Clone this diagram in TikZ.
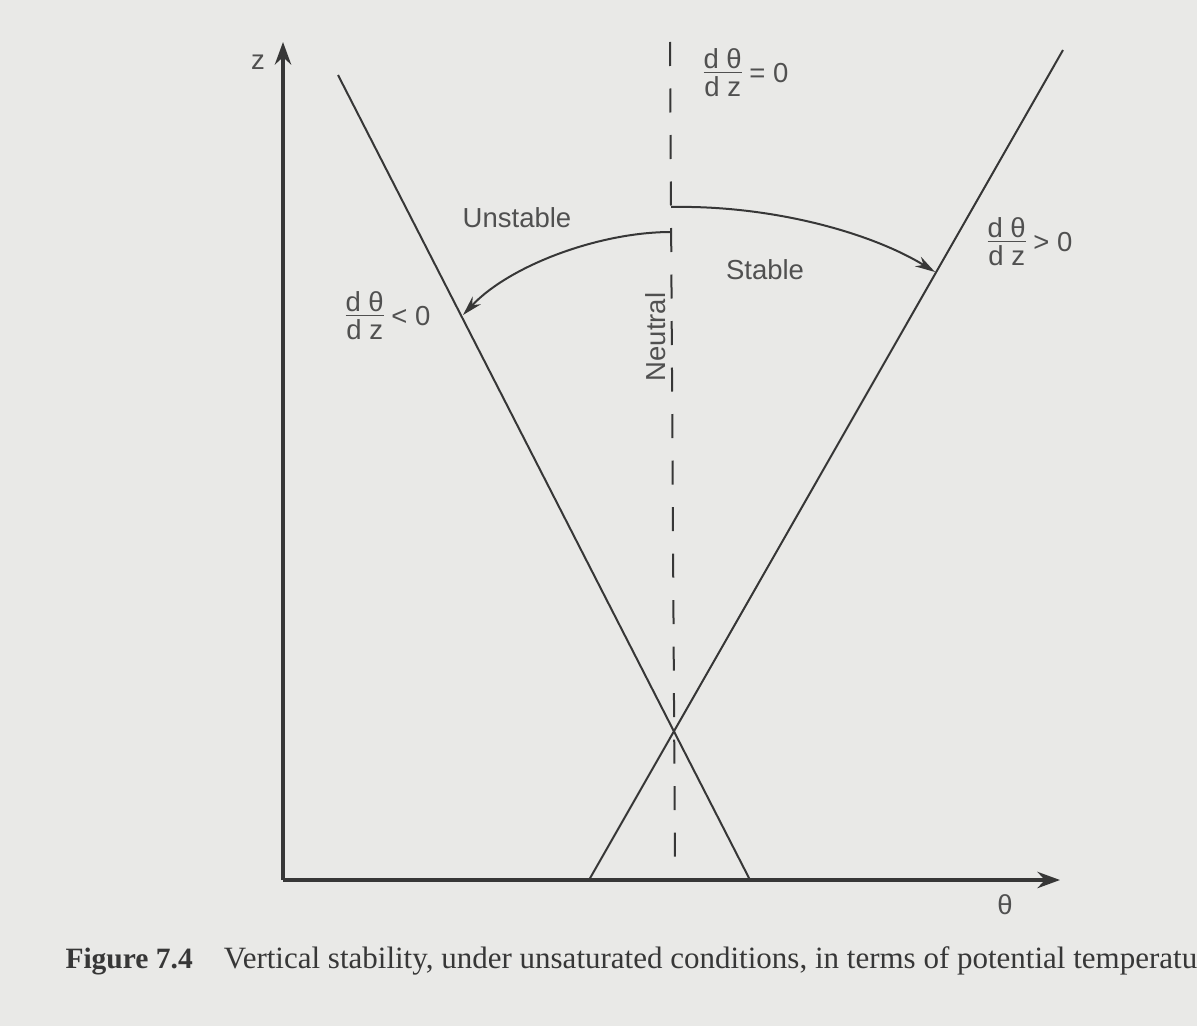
\documentclass[tikz,border=0pt]{standalone}
\usepackage{amsmath}
\usepackage{fontspec}
\setmainfont{Liberation Serif}
\setsansfont{Liberation Sans}
\usepackage{tikz}
\usetikzlibrary{arrows.meta}
\definecolor{paper}{RGB}{233,233,231}
\definecolor{ink}{RGB}{55,55,55}
\definecolor{inktext}{RGB}{80,80,80}
\newcommand{\dthdz}{\begin{tabular}{@{}c@{}}d θ\\[-2.5pt]\hline d z\end{tabular}}

\begin{document}
\begin{tikzpicture}[x=0.4pt, y=-0.4pt,
  lbl/.style={text=inktext, font=\fontsize{11}{13}\selectfont\sffamily, inner sep=0pt},
  axis/.style={ink, line width=1.4pt, -{Stealth[length=9pt, width=6.5pt]}},
  curve/.style={ink, line width=0.8pt},
  turn/.style={ink, line width=0.8pt, -{Stealth[length=8pt, width=4.5pt]}}]
  \fill[paper] (0,0) rectangle (1197,1026);
  \clip (0,0) rectangle (1197,1026);
  % axes
  \coordinate (origin) at (283,880);
  \coordinate (ztop) at (283,42);
  \coordinate (thright) at (1060,880);
  \draw[axis] (origin) -- (ztop);
  \draw[axis] (origin) -- (thright);
  \node[lbl] (zlab) at (258,62) {z};
  \node[lbl] (thlab) at (1005,905) {θ};
  % neutral, unstable and stable profiles
  \coordinate (ntop) at (670,42);
  \coordinate (nbot) at (675,868);
  \draw[curve, dash pattern=on 9.6pt off 9pt] (ntop) -- (nbot);
  \coordinate (ua) at (338,75);
  \coordinate (ub) at (750,880);
  \draw[curve] (ua) -- (ub);
  \coordinate (sa) at (589,880);
  \coordinate (sb) at (1063,50);
  \draw[curve] (sa) -- (sb);
  % turning arrows
  \coordinate (stabfrom) at (671,207);
  \coordinate (stabto) at (935,272);
  \draw[turn] (stabfrom) .. controls (770,205) and (870,232) .. (stabto);
  \coordinate (unfrom) at (671,232);
  \coordinate (unto) at (463,315);
  \draw[turn] (unfrom) .. controls (600,232) and (510,265) .. (unto);
  \node[lbl] (unstab) at (517,218) {Unstable};
  \node[lbl] (stab) at (765,270) {Stable};
  \node[lbl, rotate=90] (neutral) at (656,337) {Neutral};
  \node[lbl] (zero) at (746,76) {\dthdz\ = 0};
  \node[lbl] (pos) at (1030,245) {\dthdz\ > 0};
  \node[lbl] (neg) at (388,319) {\dthdz\ < 0};
  % caption
  \node[anchor=base west, text=ink, font=\fontsize{12.4}{14}\selectfont, inner sep=0pt]
    (caption) at (65,968)
    {{\fontsize{11.8}{14}\selectfont\textbf{Figure 7.4}}\quad Vertical stability, under unsaturated conditions, in terms of potential temperatu};
\end{tikzpicture}
\end{document}
